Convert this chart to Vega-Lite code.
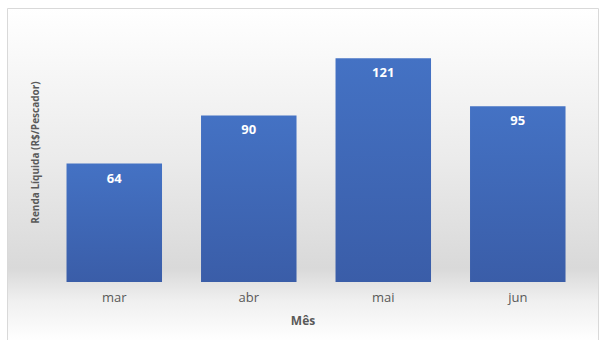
{
  "$schema": "https://vega.github.io/schema/vega-lite/v6.json",
  "width": 591,
  "height": 333,
  "autosize": {"type": "none"},
  "padding": {"left": 7, "top": 8, "right": 1, "bottom": 0},
  "background": "#ffffff",
  "config": {
    "font": "Open Sans",
    "view": {
      "stroke": "#d9d9d9",
      "strokeWidth": 1,
      "fill": {
        "gradient": "linear",
        "x1": 0, "y1": 0, "x2": 0, "y2": 1,
        "stops": [
          {"offset": 0, "color": "#ffffff"},
          {"offset": 0.45, "color": "#ebebeb"},
          {"offset": 0.78, "color": "#d9d9d9"},
          {"offset": 0.88, "color": "#f0f0f0"},
          {"offset": 1, "color": "#ffffff"}
        ]
      }
    }
  },
  "data": {
    "values": [
      {"mes": "mar", "renda": 64},
      {"mes": "abr", "renda": 90},
      {"mes": "mai", "renda": 121},
      {"mes": "jun", "renda": 95}
    ]
  },
  "encoding": {
    "x": {
      "field": "mes",
      "type": "nominal",
      "sort": null,
      "scale": {"paddingInner": 0.29, "paddingOuter": 0.342, "align": 0.647},
      "axis": {
        "title": "Mês",
        "titleFontSize": 12,
        "titleFontWeight": "bold",
        "titleColor": "#595959",
        "titlePadding": 11,
        "labelAngle": 0,
        "labelFontSize": 13,
        "labelColor": "#595959",
        "labelPadding": 9,
        "domain": false,
        "ticks": false,
        "grid": false,
        "offset": -59
      }
    },
    "y": {
      "field": "renda",
      "type": "quantitative",
      "scale": {"domain": [-31.9, 148.1], "nice": false, "zero": false},
      "axis": {
        "title": "Renda Líquida (R$/Pescador)",
        "titleFontSize": 10,
        "titleFontWeight": "bold",
        "titleColor": "#595959",
        "titleAngle": -90,
        "titleX": 28,
        "titleY": 144,
        "titleAlign": "center",
        "titleBaseline": "middle",
        "labels": false,
        "domain": false,
        "ticks": false,
        "grid": false
      }
    }
  },
  "layer": [
    {
      "mark": {
        "type": "bar",
        "color": {
          "gradient": "linear",
          "x1": 0, "y1": 0, "x2": 0, "y2": 1,
          "stops": [
            {"offset": 0, "color": "#4472c4"},
            {"offset": 1, "color": "#3a5da8"}
          ]
        }
      },
      "encoding": {
        "y2": {"datum": 0}
      }
    },
    {
      "mark": {
        "type": "text",
        "color": "#ffffff",
        "fontWeight": "bold",
        "fontSize": 13,
        "baseline": "top",
        "dy": 9
      },
      "encoding": {
        "text": {"field": "renda", "type": "quantitative"}
      }
    }
  ]
}
